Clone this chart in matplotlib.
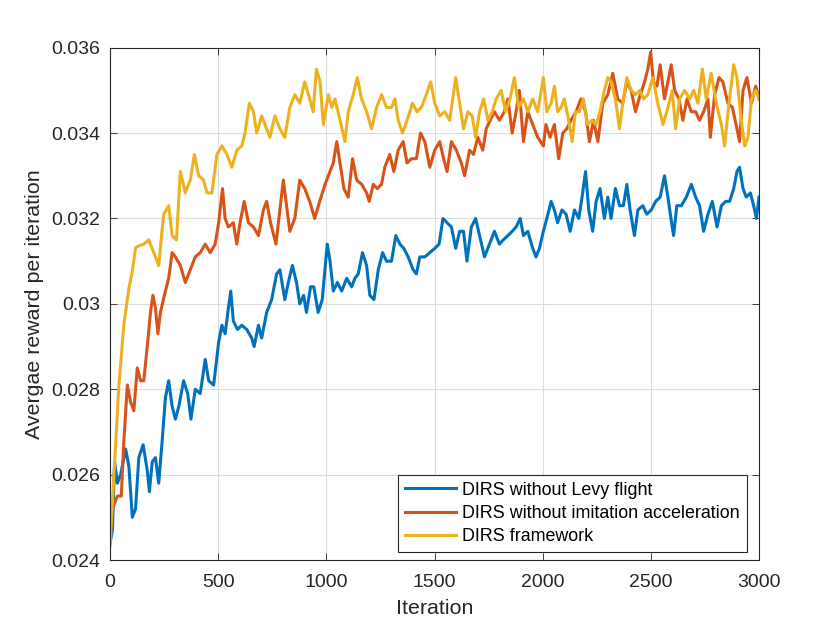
import matplotlib.pyplot as plt

# DIRS without Levy flight (blue)
levy_it = [0, 11, 21, 34, 49, 72, 87, 103, 118, 133, 153, 172, 182, 195, 210, 225, 241, 256,
           271, 287, 302, 318, 340, 359, 374, 394, 417, 440, 456, 479, 502, 517, 532, 547, 558,
           570, 589, 609, 632, 655, 666, 686, 701, 724, 747, 770, 785, 808, 824, 843, 862, 877,
           895, 908, 927, 942, 962, 981, 1004, 1017, 1032, 1051, 1071, 1094, 1117, 1132, 1147,
           1167, 1186, 1201, 1220, 1240, 1260, 1278, 1301, 1321, 1340, 1358, 1378, 1401, 1416,
           1432, 1455, 1478, 1501, 1521, 1539, 1558, 1578, 1598, 1616, 1634, 1650, 1670, 1690,
           1708, 1731, 1754, 1777, 1800, 1818, 1839, 1859, 1877, 1896, 1911, 1931, 1954, 1969,
           1985, 2003, 2019, 2039, 2054, 2069, 2089, 2108, 2127, 2147, 2167, 2182, 2198, 2213,
           2231, 2247, 2265, 2285, 2301, 2316, 2336, 2355, 2373, 2389, 2404, 2424, 2440, 2463,
           2481, 2502, 2522, 2543, 2563, 2579, 2590, 2605, 2620, 2641, 2664, 2687, 2707, 2725,
           2744, 2764, 2784, 2806, 2826, 2846, 2864, 2883, 2898, 2910, 2926, 2941, 2960, 2975,
           2988, 3000]
levy_val = [0.0244, 0.0247, 0.0263, 0.0258, 0.0260, 0.0266, 0.0262, 0.0250, 0.0252, 0.0264,
            0.0267, 0.0261, 0.0256, 0.0263, 0.0264, 0.0258, 0.0268, 0.0278, 0.0282, 0.0276,
            0.0273, 0.0276, 0.0282, 0.0279, 0.0273, 0.0280, 0.0279, 0.0287, 0.0282, 0.0281,
            0.0291, 0.0295, 0.0293, 0.0299, 0.0303, 0.0296, 0.0294, 0.0295, 0.0294, 0.0292,
            0.0290, 0.0295, 0.0292, 0.0298, 0.0301, 0.0307, 0.0308, 0.0301, 0.0305, 0.0309,
            0.0305, 0.0300, 0.0302, 0.0298, 0.0304, 0.0304, 0.0298, 0.0301, 0.0314, 0.0310,
            0.0303, 0.0305, 0.0303, 0.0306, 0.0304, 0.0306, 0.0307, 0.0312, 0.0309, 0.0302,
            0.0301, 0.0308, 0.0312, 0.0310, 0.0310, 0.0316, 0.0314, 0.0313, 0.0311, 0.0308,
            0.0307, 0.0311, 0.0311, 0.0312, 0.0313, 0.0314, 0.0320, 0.0319, 0.0318, 0.0313,
            0.0317, 0.0317, 0.0310, 0.0318, 0.0320, 0.0316, 0.0311, 0.0314, 0.0317, 0.0314,
            0.0315, 0.0316, 0.0317, 0.0318, 0.0320, 0.0316, 0.0317, 0.0313, 0.0311, 0.0313,
            0.0317, 0.0320, 0.0324, 0.0322, 0.0319, 0.0322, 0.0321, 0.0317, 0.0322, 0.0320,
            0.0325, 0.0331, 0.0322, 0.0317, 0.0324, 0.0327, 0.0320, 0.0325, 0.0320, 0.0327,
            0.0323, 0.0323, 0.0328, 0.0322, 0.0316, 0.0322, 0.0323, 0.0321, 0.0322, 0.0324,
            0.0325, 0.0330, 0.0325, 0.0321, 0.0316, 0.0323, 0.0323, 0.0325, 0.0328, 0.0325,
            0.0323, 0.0317, 0.0321, 0.0324, 0.0318, 0.0323, 0.0324, 0.0324, 0.0327, 0.0331,
            0.0332, 0.0327, 0.0325, 0.0326, 0.0323, 0.0320, 0.0325]

# DIRS without imitation acceleration (red)
imit_it = [0, 11, 34, 52, 64, 80, 95, 110, 126, 141, 156, 172, 187, 198, 210, 221, 233, 251,
           271, 287, 302, 325, 348, 371, 394, 417, 440, 463, 486, 502, 520, 532, 547, 570, 586,
           601, 620, 640, 663, 686, 709, 724, 742, 767, 785, 801, 816, 831, 854, 877, 900, 923,
           946, 969, 994, 1017, 1032, 1048, 1063, 1081, 1101, 1121, 1140, 1163, 1186, 1198,
           1217, 1235, 1255, 1270, 1293, 1312, 1332, 1355, 1373, 1393, 1416, 1435, 1455, 1478,
           1501, 1524, 1542, 1558, 1578, 1601, 1624, 1639, 1662, 1680, 1700, 1723, 1739, 1757,
           1777, 1800, 1823, 1839, 1859, 1877, 1892, 1911, 1931, 1954, 1977, 2003, 2015, 2034,
           2054, 2074, 2093, 2111, 2131, 2154, 2177, 2198, 2216, 2235, 2255, 2278, 2301, 2324,
           2347, 2370, 2389, 2409, 2429, 2451, 2471, 2486, 2499, 2512, 2528, 2543, 2563, 2579,
           2594, 2610, 2630, 2648, 2667, 2687, 2707, 2725, 2744, 2764, 2775, 2795, 2815, 2833,
           2856, 2877, 2898, 2910, 2926, 2944, 2965, 2985, 3000]
imit_val = [0.02466, 0.0252, 0.0255, 0.0255, 0.0268, 0.0281, 0.0277, 0.0275, 0.0285, 0.0282,
            0.0282, 0.0290, 0.0298, 0.0302, 0.0299, 0.0293, 0.0298, 0.0302, 0.0306, 0.0312,
            0.0311, 0.0309, 0.0305, 0.0308, 0.0311, 0.0312, 0.0314, 0.0312, 0.0314, 0.0319,
            0.0327, 0.0320, 0.0318, 0.0319, 0.0314, 0.0319, 0.0324, 0.0319, 0.0318, 0.0316,
            0.0322, 0.0324, 0.0319, 0.0314, 0.0322, 0.0329, 0.0323, 0.0317, 0.0320, 0.0329,
            0.0327, 0.0324, 0.0320, 0.0324, 0.0328, 0.0331, 0.0333, 0.0338, 0.0333, 0.0327,
            0.0325, 0.0334, 0.0329, 0.0328, 0.0326, 0.0324, 0.0328, 0.0327, 0.0328, 0.0332,
            0.0335, 0.0331, 0.0336, 0.0338, 0.0333, 0.0334, 0.0334, 0.0340, 0.0338, 0.0332,
            0.0336, 0.0338, 0.0334, 0.0331, 0.0338, 0.0336, 0.0333, 0.0330, 0.0336, 0.0335,
            0.0339, 0.0336, 0.0341, 0.0343, 0.0345, 0.0343, 0.0345, 0.0348, 0.0340, 0.0345,
            0.0350, 0.0338, 0.0345, 0.0342, 0.0339, 0.0337, 0.0342, 0.0339, 0.0342, 0.0334,
            0.0340, 0.0341, 0.0343, 0.0345, 0.0348, 0.0345, 0.0338, 0.0343, 0.0338, 0.0347,
            0.0349, 0.0354, 0.0348, 0.0347, 0.0352, 0.0350, 0.0345, 0.0349, 0.0352, 0.0355,
            0.0359, 0.0352, 0.0351, 0.0356, 0.0348, 0.0352, 0.0356, 0.0350, 0.0348, 0.0343,
            0.0348, 0.0345, 0.0345, 0.0343, 0.0345, 0.0348, 0.0339, 0.0349, 0.0353, 0.0352,
            0.0347, 0.0346, 0.0341, 0.0338, 0.0350, 0.0353, 0.0347, 0.0351, 0.0348]

# DIRS framework (yellow)
dirs_it = [0, 18, 41, 64, 87, 103, 118, 133, 156, 179, 202, 225, 248, 271, 287, 307, 325, 348,
           371, 390, 410, 432, 448, 471, 494, 517, 540, 563, 586, 609, 624, 644, 663, 678, 701,
           724, 739, 762, 785, 808, 831, 854, 877, 900, 923, 939, 954, 971, 986, 1009, 1025,
           1040, 1063, 1086, 1101, 1124, 1143, 1163, 1186, 1209, 1232, 1255, 1278, 1301, 1317,
           1332, 1352, 1373, 1398, 1419, 1439, 1462, 1482, 1501, 1524, 1547, 1570, 1598, 1616,
           1634, 1654, 1674, 1690, 1708, 1727, 1747, 1767, 1785, 1808, 1828, 1849, 1869, 1889,
           1911, 1931, 1954, 1977, 2003, 2019, 2039, 2054, 2069, 2085, 2100, 2120, 2136, 2151,
           2170, 2188, 2208, 2228, 2247, 2265, 2285, 2301, 2316, 2336, 2355, 2370, 2389, 2409,
           2429, 2448, 2466, 2486, 2509, 2532, 2556, 2579, 2599, 2614, 2633, 2656, 2679, 2698,
           2718, 2738, 2756, 2779, 2802, 2826, 2841, 2861, 2883, 2898, 2918, 2934, 2949, 2965,
           2985, 3000]
dirs_val = [0.02433, 0.0260, 0.0281, 0.02952, 0.03036, 0.03077, 0.03131, 0.03136, 0.0314,
            0.0315, 0.0312, 0.0309, 0.0321, 0.0323, 0.0316, 0.0315, 0.0331, 0.0326, 0.0329,
            0.0335, 0.0330, 0.0329, 0.0326, 0.0326, 0.0335, 0.0337, 0.0335, 0.0332, 0.0336,
            0.0337, 0.0340, 0.0347, 0.0345, 0.0340, 0.0344, 0.0341, 0.0339, 0.0344, 0.0341,
            0.0339, 0.0346, 0.0349, 0.0347, 0.0352, 0.0348, 0.0345, 0.0355, 0.0352, 0.0342,
            0.0349, 0.0346, 0.0348, 0.0343, 0.0338, 0.0345, 0.0349, 0.0353, 0.0348, 0.0345,
            0.0341, 0.0346, 0.0349, 0.0346, 0.0346, 0.0348, 0.0343, 0.0340, 0.0343, 0.0347,
            0.0345, 0.0346, 0.0349, 0.0352, 0.0347, 0.0344, 0.0345, 0.0343, 0.0353, 0.0347,
            0.0341, 0.0345, 0.0344, 0.0339, 0.0345, 0.0348, 0.0343, 0.0345, 0.0348, 0.0350,
            0.0345, 0.0348, 0.0353, 0.0346, 0.0348, 0.0345, 0.0348, 0.0345, 0.0353, 0.0345,
            0.0347, 0.0351, 0.0345, 0.0346, 0.0348, 0.0343, 0.0338, 0.0345, 0.0345, 0.0348,
            0.0342, 0.0343, 0.0342, 0.0345, 0.0350, 0.0353, 0.0352, 0.0348, 0.0341, 0.0347,
            0.0353, 0.0350, 0.0349, 0.0350, 0.0348, 0.0349, 0.0353, 0.0347, 0.0342, 0.0346,
            0.0350, 0.0341, 0.0348, 0.0350, 0.0348, 0.0350, 0.0347, 0.0355, 0.0348, 0.0354,
            0.0347, 0.0342, 0.0337, 0.0347, 0.0356, 0.0353, 0.0343, 0.0337, 0.0339, 0.0348,
            0.0350, 0.0348]

labels = ["DIRS without Levy flight", "DIRS without imitation acceleration", "DIRS framework"]
colors = ["#0072BD", "#D95319", "#EDB120"]

x_ticks = [0, 500, 1000, 1500, 2000, 2500, 3000]
y_ticks = [0.024, 0.026, 0.028, 0.030, 0.032, 0.034, 0.036]
y_tick_labels = ["0.024", "0.026", "0.028", "0.03", "0.032", "0.034", "0.036"]

plt.rcParams["font.family"] = ["Liberation Sans", "DejaVu Sans"]
text_col = "#262626"

fig = plt.figure(figsize=(8.4, 6.3), dpi=100)
ax = fig.add_axes([0.131, 0.111, 0.7726, 0.8133])

series = [(levy_it, levy_val), (imit_it, imit_val), (dirs_it, dirs_val)]
for (it, val), lab, c in zip(series, labels, colors):
    ax.plot(it, val, color=c, linewidth=2.2, label=lab)

ax.set_xlim(0, 3000)
ax.set_ylim(0.024, 0.036)
ax.set_xticks(x_ticks)
ax.set_yticks(y_ticks)
ax.set_yticklabels(y_tick_labels)
ax.grid(True, color="#dcdcdc", linewidth=0.8)
ax.set_axisbelow(True)
ax.tick_params(direction="in", length=5, width=0.6, top=True, right=True,
               labelsize=14, colors=text_col)
ax.tick_params(axis="x", pad=10)
ax.tick_params(axis="y", pad=7)
for sp in ax.spines.values():
    sp.set_color(text_col)
    sp.set_linewidth(0.8)

ax.set_xlabel("Iteration", fontsize=15.4, color=text_col, labelpad=6)
ax.set_ylabel("Avergae reward per iteration", fontsize=15.4, color=text_col, labelpad=5)

leg = ax.legend(loc="lower right", bbox_to_anchor=(0.9815, 0.0156), borderaxespad=0,
                fontsize=12.9, fancybox=False, framealpha=1, edgecolor="#262626",
                handlelength=2.85, handletextpad=0.35, labelspacing=0.34, borderpad=0.4)
leg.get_frame().set_linewidth(0.8)
for t in leg.get_texts():
    t.set_color("black")

fig.savefig("out.png", dpi=100)
